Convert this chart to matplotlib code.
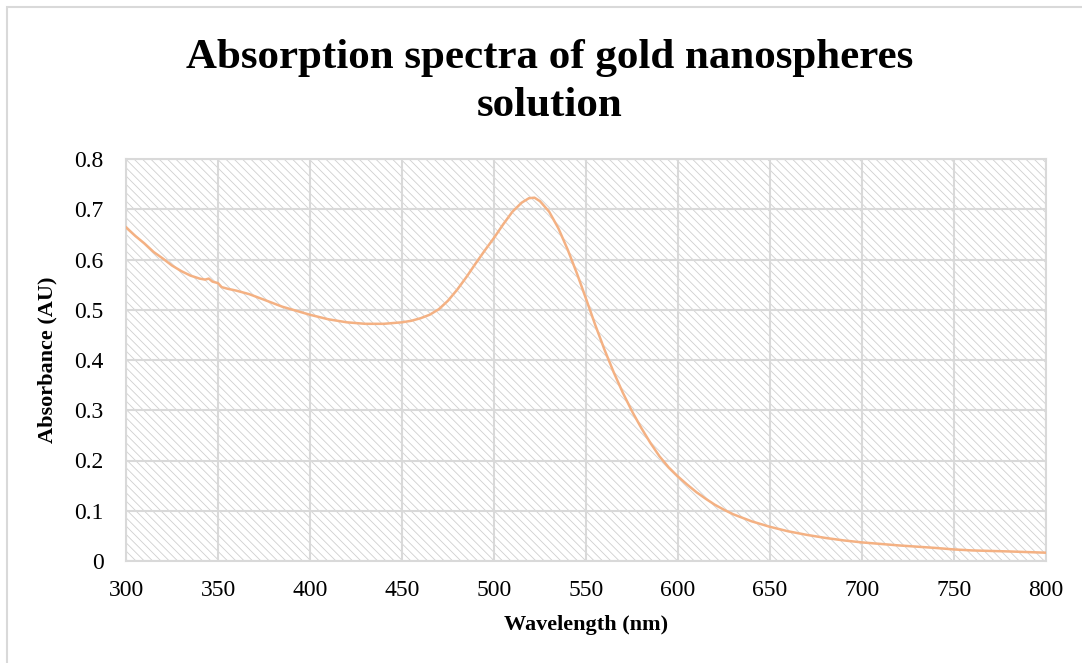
import matplotlib.pyplot as plt
from matplotlib.patches import Rectangle

wavelength = [300, 305, 310, 315, 320, 325, 330, 335, 340, 343, 345, 347, 350, 352,
              355, 360, 367, 375, 385, 400, 410, 420, 430, 440, 450, 455, 460, 465,
              470, 475, 480, 485, 490, 495, 500, 505, 510, 515, 519, 522, 525, 530,
              535, 540, 545, 550, 555, 560, 565, 570, 575, 580, 585, 590, 595, 600,
              605, 610, 615, 620, 625, 630, 640, 650, 660, 670, 680, 690, 700, 720,
              740, 750, 760, 780, 800]
absorbance = [0.664, 0.647, 0.632, 0.615, 0.602, 0.588, 0.577, 0.568, 0.562, 0.560,
              0.562, 0.556, 0.553, 0.545, 0.542, 0.538, 0.531, 0.520, 0.506, 0.490,
              0.481, 0.475, 0.472, 0.472, 0.475, 0.478, 0.483, 0.490, 0.501, 0.518,
              0.540, 0.565, 0.592, 0.618, 0.643, 0.670, 0.695, 0.713, 0.722, 0.723,
              0.716, 0.695, 0.662, 0.620, 0.573, 0.522, 0.470, 0.421, 0.376, 0.335,
              0.298, 0.265, 0.235, 0.208, 0.186, 0.168, 0.152, 0.137, 0.124, 0.112,
              0.102, 0.093, 0.079, 0.068, 0.059, 0.052, 0.046, 0.041, 0.037, 0.031,
              0.026, 0.023, 0.021, 0.019, 0.0165]

x_ticks = [300, 350, 400, 450, 500, 550, 600, 650, 700, 750, 800]
y_ticks = [0, 0.1, 0.2, 0.3, 0.4, 0.5, 0.6, 0.7, 0.8]
y_tick_labels = ['0', '0.1', '0.2', '0.3', '0.4', '0.5', '0.6', '0.7', '0.8']

plt.rcParams['font.family'] = ['Liberation Serif', 'DejaVu Serif']
plt.rcParams['hatch.linewidth'] = 0.6
plt.rcParams['hatch.color'] = '#cfcfcf'

fig = plt.figure(figsize=(10.82, 6.63), dpi=100)
ax = fig.add_axes([126 / 1082, 102 / 663, 920 / 1082, 402 / 663])

# chart frame
fig.patches.append(Rectangle((7 / 1082, -0.1), 1.2, (656 / 663) + 0.1, transform=fig.transFigure,
                             fill=False, edgecolor='#d9d9d9', linewidth=1.5))

# hatched plot area
ax.add_patch(Rectangle((0, 0), 1, 1, transform=ax.transAxes, facecolor='white',
                       edgecolor='#cfcfcf', hatch='\\\\\\\\', linewidth=0, zorder=0))

ax.plot(wavelength, absorbance, color='#f4b183', linewidth=1.8, zorder=3)

ax.set_xlim(300, 800)
ax.set_ylim(0, 0.8)
ax.set_xticks(x_ticks)
ax.set_yticks(y_ticks)
ax.set_yticklabels(y_tick_labels)
ax.grid(True, color='#d9d9d9', linewidth=1.5, zorder=1)
ax.set_axisbelow(True)
for s in ax.spines.values():
    s.set_color('#d9d9d9')
    s.set_linewidth(1.5)
ax.tick_params(length=0, labelsize=17, pad=14)
ax.tick_params(axis='y', pad=16)

ax.set_xlabel('Wavelength (nm)', fontsize=16, fontweight='bold', labelpad=10)
ax.set_ylabel('Absorbance (AU)', fontsize=16, fontweight='bold', labelpad=12)

fig.text(550 / 1082, 1 - 82 / 663, 'Absorption spectra of gold nanospheres\nsolution',
         ha='center', va='center', fontsize=31, fontweight='bold', linespacing=1.32)

fig.savefig('out.png', dpi=100)
